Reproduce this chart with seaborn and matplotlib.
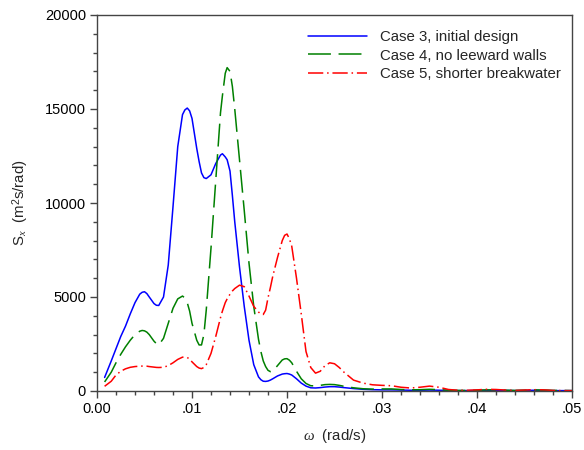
import numpy as np
import pandas as pd
import matplotlib
matplotlib.use("Agg")
import matplotlib.pyplot as plt
import seaborn as sns
from matplotlib.ticker import FixedLocator, FixedFormatter, MultipleLocator

# ---- data ----
omega = [0.0008, 0.0015, 0.0020, 0.0025, 0.0030, 0.0035, 0.0040, 0.0045, 0.00475, 0.0050,
         0.00525, 0.0055, 0.0060, 0.00625, 0.0065, 0.0070, 0.0075, 0.0080, 0.0085, 0.0090,
         0.00925, 0.0095, 0.00975, 0.0100, 0.0105, 0.01075, 0.0110, 0.01125, 0.0115, 0.0120,
         0.0125, 0.0130, 0.0132, 0.0135, 0.0137, 0.0140, 0.01425, 0.0145, 0.0150, 0.0155,
         0.0160, 0.0165, 0.0170, 0.01725, 0.0175, 0.01775, 0.0180, 0.01825, 0.0185, 0.0190,
         0.0195, 0.01975, 0.0200, 0.02025, 0.0205, 0.0210, 0.0215, 0.0220, 0.0225, 0.0230,
         0.0235, 0.0240, 0.0245, 0.0250, 0.0255, 0.0260, 0.0270, 0.0280, 0.0290, 0.0300,
         0.0310, 0.0320, 0.0330, 0.0340, 0.0350, 0.0360, 0.0370, 0.0380, 0.0390, 0.0400,
         0.0410, 0.0420, 0.0430, 0.0440, 0.0450, 0.0460, 0.0470, 0.0480, 0.0490, 0.0500]

case3 = [720, 1600, 2250, 2900, 3450, 4100, 4700, 5150, 5250, 5280,
         5180, 5000, 4650, 4560, 4550, 5000, 6700, 9800, 13000, 14700,
         14950, 15050, 14900, 14500, 12900, 12200, 11600, 11350, 11300, 11500,
         12100, 12550, 12620, 12450, 12300, 11700, 10400, 9000, 6600, 4500,
         2700, 1400, 750, 600, 520, 510, 530, 580, 650, 800,
         900, 920, 930, 900, 850, 650, 420, 260, 170, 160,
         180, 210, 230, 230, 210, 180, 130, 90, 70, 60,
         60, 50, 40, 40, 50, 40, 30, 20, 20, 30,
         40, 40, 30, 20, 30, 40, 30, 20, 20, 20]

case4 = [480, 1000, 1500, 1950, 2350, 2700, 3000, 3180, 3220, 3200,
         3130, 3000, 2650, 2520, 2450, 2800, 3600, 4400, 4900, 5050,
         4950, 4700, 4250, 3600, 2700, 2450, 2450, 3000, 4300, 7600,
         11200, 14800, 15700, 16900, 17200, 17000, 16200, 15000, 12300, 9600,
         6800, 4500, 2750, 2100, 1600, 1300, 1100, 1030, 1050, 1350,
         1650, 1710, 1720, 1640, 1500, 1050, 650, 400, 280, 270,
         300, 340, 350, 340, 300, 250, 170, 120, 100, 110,
         110, 80, 60, 70, 90, 70, 40, 30, 30, 40,
         60, 60, 40, 30, 40, 60, 50, 30, 30, 20]

case5 = [250, 520, 850, 1050, 1180, 1260, 1300, 1320, 1325, 1330,
         1320, 1300, 1270, 1255, 1250, 1260, 1350, 1500, 1680, 1800,
         1800, 1780, 1700, 1550, 1300, 1220, 1190, 1250, 1400, 2000,
         2900, 3900, 4250, 4700, 4900, 5150, 5320, 5450, 5630, 5550,
         5050, 4500, 4200, 4100, 4070, 4300, 4950, 5500, 6100, 7100,
         8000, 8280, 8350, 8100, 7700, 6000, 4100, 2100, 1250, 950,
         1050, 1350, 1500, 1450, 1250, 1000, 580, 420, 330, 300,
         280, 200, 160, 200, 260, 200, 80, 40, 40, 60,
         90, 80, 50, 30, 50, 70, 60, 30, 20, 20]

labels = ["Case 3, initial design", "Case 4, no leeward walls", "Case 5, shorter breakwater"]
colors = ["#0000FF", "#008000", "#FF0000"]
x_ticks = [0.0, 0.01, 0.02, 0.03, 0.04, 0.05]
x_ticklabels = ["0.00", ".01", ".02", ".03", ".04", ".05"]
y_ticks = [0, 5000, 10000, 15000, 20000]
y_ticklabels = ["0", "5000", "10000", "15000", "20000"]

# ---- style ----
sns.set_style("white")
plt.rcParams["font.family"] = ["Liberation Sans", "DejaVu Sans"]
plt.rcParams["mathtext.fontset"] = "custom"
plt.rcParams["mathtext.rm"] = "Liberation Sans"
plt.rcParams["mathtext.it"] = "Liberation Serif:italic"

fig = plt.figure(figsize=(5.84, 4.50), dpi=100)
ax = fig.add_axes([97 / 584, 1 - 391 / 450, (572 - 97) / 584, (391 - 15) / 450])

series = [case3, case4, case5]
styles = ["-", (0, (15, 5)), (0, (10, 2.5, 1, 2.5))]
for vals, lab, col, ls in zip(series, labels, colors, styles):
    df = pd.DataFrame({"omega": omega, "S": vals})
    sns.lineplot(data=df, x="omega", y="S", ax=ax, color=col, linewidth=1.1,
                 linestyle=ls, label=lab, estimator=None, sort=False)

ax.set_xlim(0, 0.05)
ax.set_ylim(0, 20000)
ax.xaxis.set_major_locator(FixedLocator(x_ticks))
ax.xaxis.set_major_formatter(FixedFormatter(x_ticklabels))
ax.xaxis.set_minor_locator(MultipleLocator(0.002))
ax.yaxis.set_major_locator(FixedLocator(y_ticks))
ax.yaxis.set_major_formatter(FixedFormatter(y_ticklabels))
ax.yaxis.set_minor_locator(MultipleLocator(1000))

ax.tick_params(axis="both", which="major", direction="out", length=5, width=1,
               color="#444444", labelsize=10.5, labelcolor="black", pad=3,
               bottom=True, left=True, top=False, right=False)
ax.tick_params(axis="both", which="minor", direction="out", length=3, width=1,
               color="#444444", bottom=True, left=True, top=False, right=False)
for sp in ax.spines.values():
    sp.set_color("#444444")
    sp.set_linewidth(1.0)

ax.set_xlabel(r"$\mathit{\omega}$  (rad/s)", fontsize=10.8, labelpad=8)
ax.set_ylabel(r"S$_\mathit{x}$  (m$^2$s/rad)", fontsize=10.8, labelpad=10)

leg = ax.legend(loc="upper left", bbox_to_anchor=(0.432, 0.975), frameon=False,
                fontsize=10.8, handlelength=3.9, handletextpad=0.9, labelspacing=0.28,
                borderaxespad=0)

fig.savefig("out.png", dpi=100)
